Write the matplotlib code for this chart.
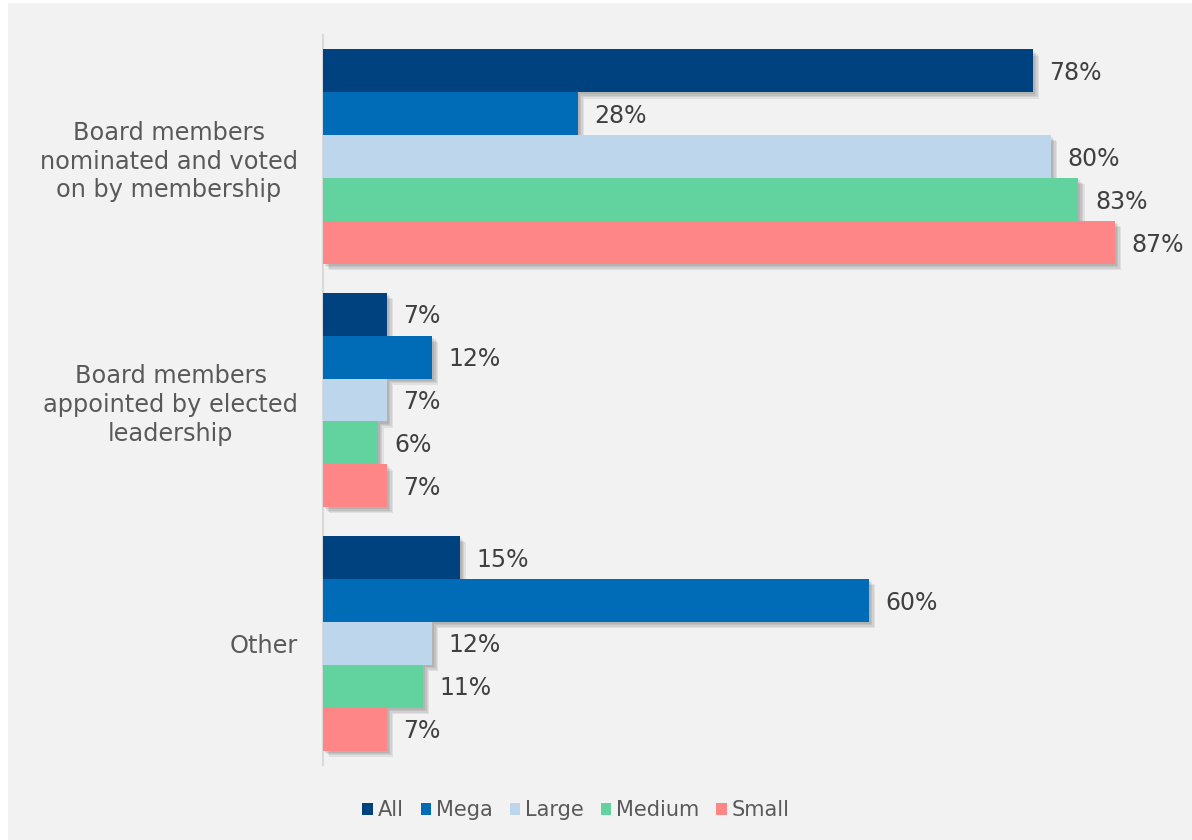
import matplotlib
matplotlib.use("Agg")
import matplotlib.pyplot as plt
import matplotlib.patheffects as pe
from matplotlib.patches import Patch, Rectangle
import numpy as np

categories = ["Board members\nnominated and voted\non by membership",
              "Board members\nappointed by elected\nleadership",
              "Other"]
series = ["All", "Mega", "Large", "Medium", "Small"]
values = {
    "All":    [78, 7, 15],
    "Mega":   [28, 12, 60],
    "Large":  [80, 7, 12],
    "Medium": [83, 6, 11],
    "Small":  [87, 7, 7],
}
colors = {
    "All": "#00427F",
    "Mega": "#006BB6",
    "Large": "#BED6EC",
    "Medium": "#62D29E",
    "Small": "#FF8686",
}

plt.rcParams['font.family'] = ['DejaVu Sans']
text_color = "#595959"
bg = "#F2F2F2"

W, H = 1192, 840
fig = plt.figure(figsize=(W / 100, H / 100), dpi=100)
fig.patch.set_facecolor("white")
fig.patches.append(Rectangle((8 / W, 0), 1 - 8 / W, 1 - 3 / H, transform=fig.transFigure,
                             facecolor=bg, edgecolor="none", zorder=-10))

left, right = 323 / W, 1180 / W
top, bottom = 1 - 35 / H, 1 - 765 / H
ax = fig.add_axes([left, bottom, right - left, top - bottom])
ax.set_facecolor("none")

px_per_unit = 9.1
xmax = (1180 - 323) / px_per_unit
ax.set_xlim(0, xmax)
ax.set_ylim(2.5, -0.5)

h = 43 / 244
y = np.arange(len(categories))
shadow = [pe.SimplePatchShadow(offset=(o, -o), shadow_rgbFace="black", alpha=0.07)
          for o in (1.5, 2.5, 3.5, 4.5)] + [pe.Normal()]
for i, s in enumerate(series):
    yy = y + (i - 2) * h
    bars = ax.barh(yy, values[s], height=h, color=colors[s], label=s, zorder=3)
    for b in bars:
        b.set_path_effects(shadow)
    for yv, v in zip(yy, values[s]):
        ax.annotate(f"{v}%", (v, yv), xytext=(12, -1.5), textcoords="offset points",
                    ha="left", va="center", fontsize=17, color="#404040")

ax.set_yticks(y)
ax.set_yticklabels(categories, fontsize=17.3, color=text_color, multialignment="center",
                   linespacing=1.25)
ax.tick_params(axis="y", length=0, pad=18)
ax.set_xticks([])
for sp in ["top", "right", "bottom"]:
    ax.spines[sp].set_visible(False)
ax.spines["left"].set_color("#D9D9D9")
ax.spines["left"].set_linewidth(1.5)

handles = [Patch(facecolor=colors[s], edgecolor="none", label=s) for s in series]
leg = fig.legend(handles=handles, loc="center", bbox_to_anchor=(576 / W, 1 - 810 / H),
                 ncol=5, frameon=False, fontsize=15, handlelength=0.5, handleheight=0.5,
                 handletextpad=0.25, columnspacing=0.8)
for t in leg.get_texts():
    t.set_color(text_color)

fig.savefig("out.png", dpi=100, facecolor=fig.get_facecolor())
